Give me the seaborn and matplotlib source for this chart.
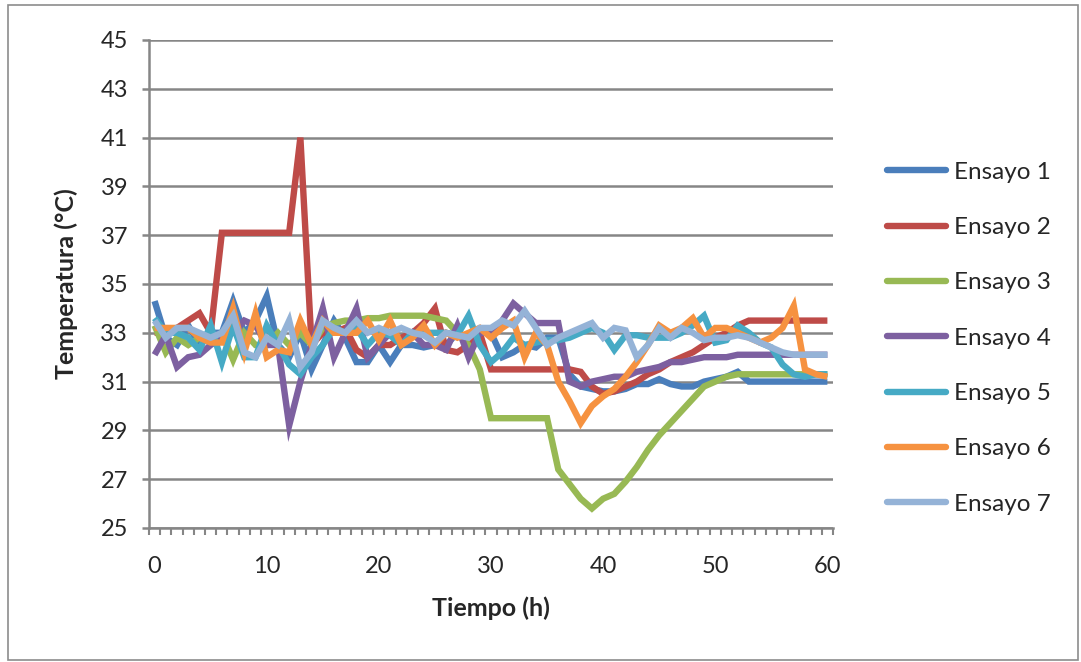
import numpy as np
import pandas as pd
import matplotlib
matplotlib.use("Agg")
import matplotlib.pyplot as plt
from matplotlib.patches import Rectangle
import seaborn as sns

hours = list(range(61))

ensayo1 = [34.3, 32.8, 32.5, 33.3, 32.5, 33.0, 33.0, 34.3, 33.0, 33.5,
           34.5, 32.5, 32.0, 33.0, 31.5, 32.5, 33.5, 32.8, 31.8, 31.8,
           32.5, 31.8, 32.5, 32.5, 32.4, 32.5, 32.5, 33.0, 32.8, 33.0,
           33.0, 32.0, 32.2, 32.5, 32.4, 32.8, 32.8, 31.3, 30.8, 30.7,
           30.6, 30.6, 30.7, 30.9, 30.9, 31.1, 30.9, 30.8, 30.8, 31.0,
           31.1, 31.2, 31.4, 31.0, 31.0, 31.0, 31.0, 31.0, 31.0, 31.0, 31.0]
ensayo2 = [33.0, 33.0, 33.2, 33.5, 33.8, 33.0, 37.1, 37.1, 37.1, 37.1,
           37.1, 37.1, 37.1, 41.0, 32.5, 33.0, 33.0, 33.2, 32.3, 32.0,
           32.5, 32.5, 32.8, 33.0, 33.4, 34.0, 32.3, 32.2, 32.5, 33.0,
           31.5, 31.5, 31.5, 31.5, 31.5, 31.5, 31.5, 31.5, 31.4, 30.8,
           30.5, 30.6, 30.8, 31.0, 31.3, 31.5, 31.8, 32.0, 32.2, 32.5,
           32.8, 33.0, 33.3, 33.5, 33.5, 33.5, 33.5, 33.5, 33.5, 33.5, 33.5]
ensayo3 = [33.3, 32.2, 32.8, 32.5, 32.8, 32.6, 33.0, 31.9, 33.0, 32.5,
           32.5, 33.0, 32.5, 33.0, 32.5, 33.2, 33.4, 33.5, 33.5, 33.6,
           33.6, 33.7, 33.7, 33.7, 33.7, 33.6, 33.5, 33.0, 32.5, 31.5,
           29.5, 29.5, 29.5, 29.5, 29.5, 29.5, 27.4, 26.8, 26.2, 25.8,
           26.2, 26.4, 26.9, 27.5, 28.2, 28.8, 29.3, 29.8, 30.3, 30.8,
           31.0, 31.2, 31.3, 31.3, 31.3, 31.3, 31.3, 31.3, 31.3, 31.3, 31.3]
ensayo4 = [32.1, 32.9, 31.6, 32.0, 32.1, 32.5, 32.8, 33.0, 33.5, 33.3,
           32.5, 32.5, 29.2, 31.0, 32.5, 34.0, 32.0, 33.0, 34.0, 32.0,
           32.5, 33.0, 32.5, 33.0, 32.5, 32.5, 32.3, 33.3, 32.0, 33.0,
           33.0, 33.5, 34.2, 33.8, 33.4, 33.4, 33.4, 31.0, 30.8, 31.0,
           31.1, 31.2, 31.2, 31.4, 31.5, 31.6, 31.8, 31.8, 31.9, 32.0,
           32.0, 32.0, 32.1, 32.1, 32.1, 32.1, 32.1, 32.1, 32.1, 32.1, 32.1]
ensayo5 = [33.6, 33.0, 33.0, 32.8, 32.3, 33.3, 31.8, 33.3, 32.0, 32.0,
           33.3, 32.5, 31.7, 31.3, 32.0, 32.5, 33.2, 33.0, 33.2, 32.5,
           33.0, 32.9, 32.5, 33.0, 33.0, 33.0, 33.0, 32.9, 33.7, 32.5,
           31.8, 32.2, 32.8, 32.5, 32.6, 32.7, 32.7, 32.8, 33.0, 33.2,
           33.0, 32.3, 32.9, 32.9, 32.8, 32.8, 32.8, 33.0, 33.3, 33.7,
           32.6, 32.7, 33.3, 33.0, 32.6, 32.4, 31.7, 31.3, 31.2, 31.3, 31.3]
ensayo6 = [33.2, 33.2, 33.2, 33.2, 32.8, 32.6, 32.6, 34.0, 32.2, 33.8,
           32.0, 32.3, 32.2, 33.5, 32.5, 33.5, 33.0, 33.0, 33.0, 33.5,
           32.7, 33.5, 32.5, 32.8, 33.3, 32.5, 33.0, 32.8, 33.0, 33.2,
           32.8, 33.2, 33.5, 32.0, 33.0, 32.5, 31.0, 30.2, 29.3, 30.0,
           30.4, 30.7, 31.2, 31.8, 32.5, 33.3, 33.0, 33.2, 33.6, 32.8,
           33.2, 33.2, 33.0, 32.8, 32.6, 32.8, 33.2, 34.1, 31.5, 31.3, 31.2]
ensayo7 = [33.5, 32.8, 33.2, 33.2, 33.0, 32.8, 33.0, 33.7, 32.2, 32.0,
           32.8, 32.5, 33.5, 31.6, 32.2, 33.5, 33.2, 33.0, 33.5, 33.0,
           33.2, 33.0, 33.2, 33.0, 32.9, 32.6, 33.0, 32.9, 32.8, 33.2,
           33.2, 33.5, 33.3, 33.9, 33.2, 32.5, 32.8, 33.0, 33.2, 33.4,
           32.8, 33.2, 33.1, 32.0, 32.5, 33.2, 32.8, 33.2, 33.0, 32.7,
           32.8, 32.8, 32.9, 32.8, 32.6, 32.4, 32.2, 32.1, 32.1, 32.1, 32.1]

series_names = ["Ensayo 1", "Ensayo 2", "Ensayo 3", "Ensayo 4",
                "Ensayo 5", "Ensayo 6", "Ensayo 7"]
series_values = [ensayo1, ensayo2, ensayo3, ensayo4, ensayo5, ensayo6, ensayo7]
colors = ["#4A7EBB", "#BE4B48", "#98B954", "#7D60A0",
          "#46AAC5", "#F69240", "#95B3D7"]

x_ticks = [0, 10, 20, 30, 40, 50, 60]
y_ticks = list(range(25, 46, 2))

frames = []
for name, vals in zip(series_names, series_values):
    frames.append(pd.DataFrame({"Tiempo": hours, "Temp": vals, "Ensayo": name}))
df = pd.concat(frames, ignore_index=True)

sns.set_theme(style="white")
plt.rcParams["font.family"] = ["Lato", "DejaVu Sans"]

fig = plt.figure(figsize=(10.81, 6.62), dpi=100)
ax = fig.add_axes([149 / 1081, 1 - 528 / 662, (833 - 149) / 1081, (528 - 40) / 662])

# chart area border
fig.patches.append(Rectangle((8 / 1081, 1 - 660 / 662), (1078 - 8) / 1081, (660 - 5) / 662,
                             transform=fig.transFigure, fill=False,
                             edgecolor="#8C8C8C", linewidth=1.2))

sns.lineplot(data=df, x="Tiempo", y="Temp", hue="Ensayo", palette=colors,
             linewidth=4.6, ax=ax, legend=False, solid_joinstyle="miter",
             solid_capstyle="butt")

ax.set_xlim(-0.5, 60.5)
ax.set_ylim(25, 45)
ax.set_yticks(y_ticks)
ax.set_xticks(x_ticks)
ax.set_xticks(np.arange(-0.5, 61, 1), minor=True)
ax.grid(axis="y", color="#868686", linewidth=1.8)
ax.set_axisbelow(True)
for side in ["top", "right"]:
    ax.spines[side].set_visible(False)
for side in ["left", "bottom"]:
    ax.spines[side].set_color("#868686")
    ax.spines[side].set_linewidth(1.8)

ax.tick_params(axis="y", which="major", direction="out", length=5, width=1.8,
               color="#868686", labelsize=17, pad=10, left=True)
ax.tick_params(axis="x", which="major", length=0, labelsize=17, pad=20, bottom=True)
ax.tick_params(axis="x", which="minor", direction="out", length=5, width=1.5,
               color="#868686", bottom=True)

ax.set_xlabel("Tiempo (h)", fontsize=18, fontweight="bold", labelpad=14)
ax.set_ylabel("Temperatura (°C)", fontsize=18, fontweight="bold", labelpad=16)

handles = [plt.Line2D([0], [0], color=c, linewidth=4.6) for c in colors]
leg = fig.legend(handles, series_names, loc="upper left",
                 bbox_to_anchor=(865 / 1081, 1 - 140 / 662), frameon=False,
                 fontsize=17.5, handlelength=2.45, handletextpad=0.3,
                 labelspacing=1.41)

fig.savefig("out.png", dpi=100)
